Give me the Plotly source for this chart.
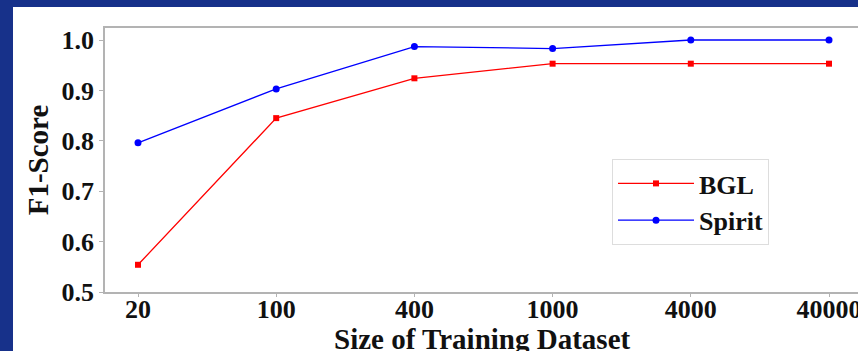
import plotly.graph_objects as go

categories = ["20", "100", "400", "1000", "4000", "40000"]
bgl = [0.554, 0.845, 0.924, 0.953, 0.953, 0.953]
spirit = [0.796, 0.903, 0.987, 0.983, 1.0, 1.0]
y_ticks = [0.5, 0.6, 0.7, 0.8, 0.9, 1.0]
x_title = "Size of Training Dataset"
y_title = "F1-Score"

W, H = 858, 351
L, R, T, B = 105, 0, 28, 59
pw, ph = W - L - R, H - T - B

def px_x(p):
    return (p - L) / pw

def px_y(p):
    return (H - B - p) / ph

FONT = "Liberation Serif"
fig = go.Figure()
fig.add_trace(go.Scatter(
    x=list(range(len(categories))), y=bgl, name="<b>BGL</b>", mode="lines+markers",
    line=dict(color="#ff0000", width=1.3),
    marker=dict(symbol="square", size=6, color="#ff0000"),
    legendgroup="a",
))
fig.add_trace(go.Scatter(
    x=list(range(len(categories))), y=spirit, name="<b>Spirit</b>", mode="lines+markers",
    line=dict(color="#0000ff", width=1.3),
    marker=dict(symbol="circle", size=7, color="#0000ff"),
    legendgroup="b",
))

axis_line = "#b3b3b3"
fig.update_layout(
    width=W, height=H,
    margin=dict(l=L, r=R, t=T, b=B, pad=0, autoexpand=False),
    paper_bgcolor="#17318a",
    plot_bgcolor="white",
    font=dict(family=FONT, size=26, color="#111111"),
    showlegend=True,
    legend=dict(
        x=px_x(612), y=px_y(159), xanchor="left", yanchor="top",
        bgcolor="white", bordercolor="#dddddd", borderwidth=1,
        font=dict(family=FONT, size=26, color="#111111"),
        tracegroupgap=0, itemwidth=76,
    ),
    shapes=[dict(
        type="rect", xref="paper", yref="paper", layer="below",
        x0=px_x(13), x1=px_x(W + 5), y0=px_y(H + 5), y1=px_y(7),
        fillcolor="white", line=dict(width=0),
    )],
    annotations=[dict(
        text=f"<b>{x_title}</b>", xref="paper", yref="paper",
        x=px_x(482), y=px_y(321), xanchor="center", yanchor="top",
        showarrow=False, font=dict(family=FONT, size=29, color="#111111"),
    )],
    xaxis=dict(
        range=[(L - 138) / 138.2, (W - 138) / 138.2],
        automargin=True,
        tickmode="array", tickvals=list(range(len(categories))),
        ticktext=[f"<b>{c}</b>" for c in categories],
        ticklabeloverflow="allow", ticklabelstandoff=-10,
        tickfont=dict(family=FONT, size=26),
        showgrid=False, zeroline=False,
        showline=True, linecolor=axis_line, linewidth=1.5, mirror=True,
        ticks="outside", ticklen=3, tickcolor=axis_line, tickwidth=1,
    ),
    yaxis=dict(
        range=[0.5, 0.5 + ph / 504.0],
        automargin=True,
        tickmode="array", tickvals=y_ticks,
        ticktext=[f"<b>{v:.1f}</b>" for v in y_ticks],
        tickfont=dict(family=FONT, size=26),
        showgrid=False, zeroline=False,
        showline=True, linecolor=axis_line, linewidth=1.5, mirror=False,
        ticks="outside", ticklen=4, tickcolor=axis_line, tickwidth=1,
        title=dict(text=f"<b>{y_title}</b>", standoff=4,
                   font=dict(family=FONT, size=29)),
    ),
)

fig.write_html(
    "out.html",
    config={"displayModeBar": False},
    post_script="document.body.style.margin='0';document.body.style.padding='0';"
                "document.body.style.overflow='hidden';document.body.style.background='#17318a';",
)
